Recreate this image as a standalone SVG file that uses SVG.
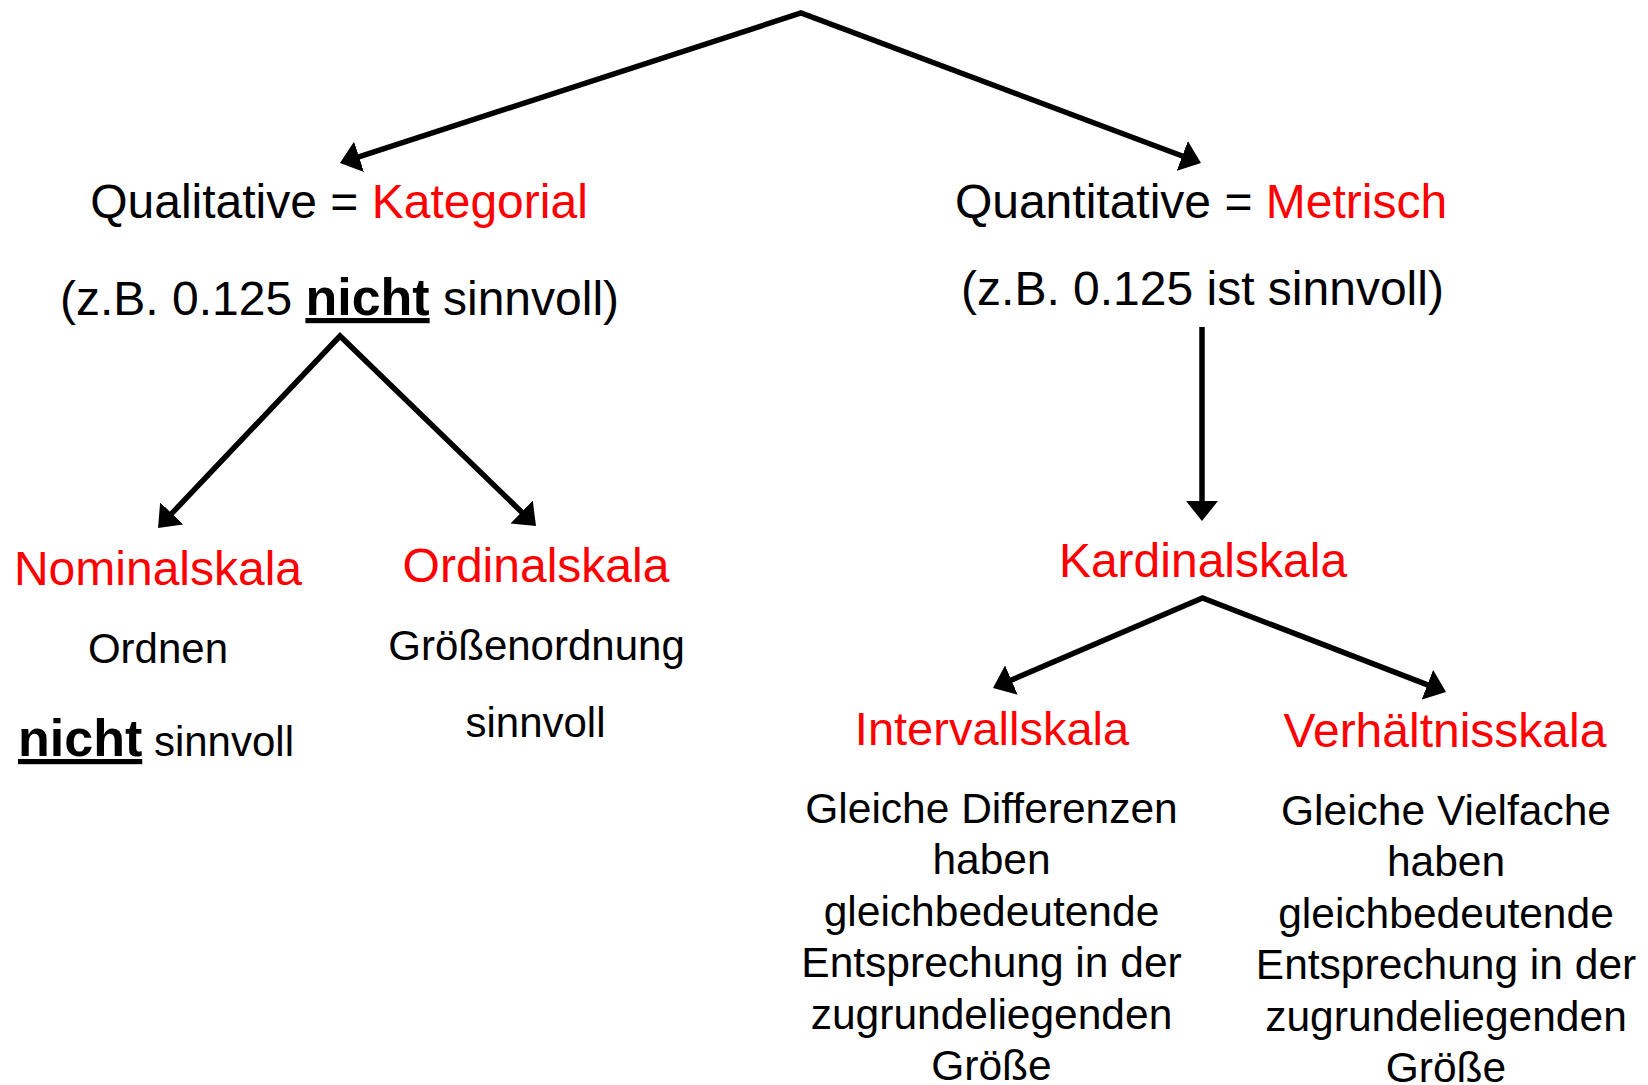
<svg xmlns="http://www.w3.org/2000/svg" width="1648" height="1085" viewBox="0 0 1648 1085">
  <style>
    text { font-family: "Liberation Sans", Arial, sans-serif; fill: #000; }
    .head { font-size: 48px; text-anchor: middle; }
    .red { fill: #FF0000; }
    .desc { font-size: 42px; text-anchor: middle; }
    .long { font-size: 42.5px; text-anchor: middle; }
    .bold { font-weight: bold; font-size: 52px; text-decoration: underline; text-decoration-thickness: 5px; }
    .conn { fill: none; stroke: #000; stroke-width: 5.5; stroke-linejoin: miter; }
  </style>
  <defs>
    <marker id="arrow" markerUnits="userSpaceOnUse" viewBox="0 0 20 32" markerWidth="20" markerHeight="32" refX="10" refY="16" orient="auto-start-reverse">
      <path d="M0,0 L20,16 L0,32 z" fill="#000"/>
    </marker>
  </defs>
  <rect width="1648" height="1085" fill="#fff"/>

  <g id="connectors">
    <path class="conn" d="M349.5,159.9 L801,13 L1191.6,159.5" marker-start="url(#arrow)" marker-end="url(#arrow)"/>
    <path class="conn" d="M164.9,520.7 L340,336 L528.8,519" marker-start="url(#arrow)" marker-end="url(#arrow)"/>
    <path class="conn" d="M1202,327 L1202,511" marker-end="url(#arrow)"/>
    <path class="conn" d="M1002.2,684 L1202.5,598 L1436.7,688.4" marker-start="url(#arrow)" marker-end="url(#arrow)"/>
  </g>

  <g id="qualitative">
    <text class="head" x="339" y="218">Qualitative = <tspan class="red">Kategorial</tspan></text>
    <text class="head" x="339.5" y="315">(z.B. 0.125 <tspan class="bold">nicht</tspan> sinnvoll)</text>
  </g>

  <g id="quantitative">
    <text class="head" x="1201" y="218">Quantitative = <tspan class="red">Metrisch</tspan></text>
    <text class="head" x="1202.5" y="305">(z.B. 0.125 ist sinnvoll)</text>
  </g>

  <g id="nominalskala">
    <text class="head red" x="158" y="585">Nominalskala</text>
    <text class="desc" x="158" y="663">Ordnen</text>
    <text x="18" y="756" style="font-size:42px"><tspan class="bold">nicht</tspan> sinnvoll</text>
  </g>

  <g id="ordinalskala">
    <text class="head red" x="536" y="582">Ordinalskala</text>
    <text class="desc" x="536.5" y="660">Größenordnung</text>
    <text class="desc" x="535.5" y="737">sinnvoll</text>
  </g>

  <g id="kardinalskala">
    <text class="head red" x="1203" y="577">Kardinalskala</text>
  </g>

  <g id="intervallskala">
    <text class="head red" x="992" y="745" style="font-size:47px">Intervallskala</text>
    <text class="long" x="991.5" y="823">Gleiche Differenzen</text>
    <text class="long" x="991.5" y="874.4">haben</text>
    <text class="long" x="991.5" y="925.8">gleichbedeutende</text>
    <text class="long" x="991.5" y="977.2">Entsprechung in der</text>
    <text class="long" x="991.5" y="1028.6">zugrundeliegenden</text>
    <text class="long" x="991.5" y="1080">Größe</text>
  </g>

  <g id="verhaeltnisskala">
    <text class="head red" x="1445" y="747">Verhältnisskala</text>
    <text class="long" x="1446" y="825">Gleiche Vielfache</text>
    <text class="long" x="1446" y="876.4">haben</text>
    <text class="long" x="1446" y="927.8">gleichbedeutende</text>
    <text class="long" x="1446" y="979.2">Entsprechung in der</text>
    <text class="long" x="1446" y="1030.6">zugrundeliegenden</text>
    <text class="long" x="1446" y="1082">Größe</text>
  </g>
</svg>
